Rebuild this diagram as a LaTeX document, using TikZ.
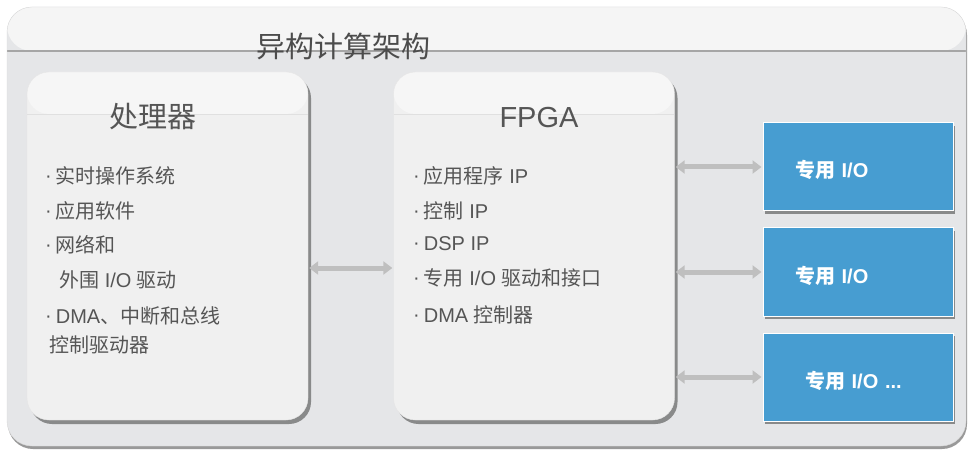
\documentclass[tikz,border=0pt]{standalone}
\usepackage{fontspec}
\setmainfont{Liberation Sans}
\newfontfamily\cjk{Noto Sans CJK SC}
\newcommand{\zhtxt}[1]{{\cjk #1}}
\usetikzlibrary{arrows.meta,shadows}
\definecolor{outerfill}{HTML}{E5E6E8}
\definecolor{bandfill}{HTML}{F5F5F5}
\definecolor{boxfill}{HTML}{F0F0F0}
\definecolor{boxband}{HTML}{F6F6F6}
\definecolor{txtgray}{HTML}{555555}
\definecolor{iofill}{HTML}{479DD1}
\definecolor{arrgray}{HTML}{BFBFBF}
\tikzset{
  outerbox/.style={draw=black!15, fill=outerfill, rounded corners=25pt,
    minimum width=959pt, minimum height=439pt, inner sep=0pt,
    drop shadow={shadow xshift=1pt, shadow yshift=-3pt, fill=black!50, opacity=.8},
    path picture={
      \fill[bandfill] (path picture bounding box.north west) rectangle ([yshift=-44pt]path picture bounding box.north east);
      \draw[black!35, line width=1.6pt] ([yshift=-44pt]path picture bounding box.north west) -- ([yshift=-44pt]path picture bounding box.north east);
    }},
  unitbox/.style={draw=black!10, fill=boxfill, rounded corners=22pt,
    minimum width=281pt, minimum height=348pt, inner sep=0pt,
    drop shadow={shadow xshift=3pt, shadow yshift=-4pt, fill=black!55, opacity=.8},
    path picture={
      \fill[boxband] (path picture bounding box.north west) rectangle ([yshift=-42pt]path picture bounding box.north east);
      \draw[black!12, line width=0.8pt] ([yshift=-42pt]path picture bounding box.north west) -- ([yshift=-42pt]path picture bounding box.north east);
    }},
  iobox/.style={draw=white, line width=1pt, fill=iofill, minimum width=190pt, minimum height=88pt,
    text width=126pt, inner xsep=32pt, align=left, text=white, font=\fontsize{20}{22}\selectfont\bfseries,
    text height=24pt, text depth=2pt,
    drop shadow={shadow xshift=2pt, shadow yshift=-3pt, fill=black!55, opacity=.8}},
  listtxt/.style={anchor=west, inner sep=0pt, text=txtgray, font=\fontsize{20}{24}\selectfont},
  boxtitle/.style={text=txtgray, inner sep=0pt},
  biarrow/.style={draw=arrgray, line width=5pt, {Triangle[width=13pt,length=9pt]}-{Triangle[width=13pt,length=9pt]}, shorten <=1pt, shorten >=1pt}
}
\newcommand{\bul}{\raisebox{1.5pt}{·}\hspace{4pt}}
\begin{document}
\begin{tikzpicture}[x=1pt,y=-1pt]
\useasboundingbox (0,0) rectangle (968,454);
\fill[white] (0,0) rectangle (968,454);
\node[outerbox] (outer) at (486.5,226.5) {};
\node[boxtitle, font=\fontsize{29}{32}\selectfont\cjk, text=black!70] (title) at (343,46) {异构计算架构};

\node[unitbox] (proc) at (167.5,246) {};
\node[unitbox] (fpga) at (534,246) {};

\node[boxtitle, font=\fontsize{29}{32}\selectfont\cjk] (proctitle) at (153,117) {处理器};
\node[boxtitle, font=\fontsize{29}{32}\selectfont] (fpgatitle) at (539,118) {FPGA};

\node[listtxt] (p1) at (45,176) {\bul\zhtxt{实时操作系统}};
\node[listtxt] (p2) at (45,211) {\bul\zhtxt{应用软件}};
\node[listtxt] (p3) at (45,245) {\bul\zhtxt{网络和}};
\node[listtxt] (p4) at (59,280) {\zhtxt{外围} I/O \zhtxt{驱动}};
\node[listtxt] (p5) at (45,316) {\bul DMA\zhtxt{、中断和总线}};
\node[listtxt] (p6) at (49,345) {\zhtxt{控制驱动器}};

\node[listtxt] (f1) at (413,176) {\bul\zhtxt{应用程序} IP};
\node[listtxt] (f2) at (413,211) {\bul\zhtxt{控制} IP};
\node[listtxt] (f3) at (413,244) {\bul DSP IP};
\node[listtxt] (f4) at (413,278) {\bul\zhtxt{专用} I/O \zhtxt{驱动和接口}};
\node[listtxt] (f5) at (413,315) {\bul DMA \zhtxt{控制器}};

\node[iobox] (io1) at (858,167) {\zhtxt{专用} I/O};
\node[iobox] (io2) at (858,272) {\zhtxt{专用} I/O};
\node[iobox] (io3) at (858,377) {\hspace*{10pt}\zhtxt{专用} I/O ...};

\draw[biarrow] ([yshift=-22pt]proc.east) -- ([yshift=-22pt]fpga.west);
\draw[biarrow] (io1.west -| fpga.east) -- (io1.west);
\draw[biarrow] (io2.west -| fpga.east) -- (io2.west);
\draw[biarrow] (io3.west -| fpga.east) -- (io3.west);
\end{tikzpicture}
\end{document}
